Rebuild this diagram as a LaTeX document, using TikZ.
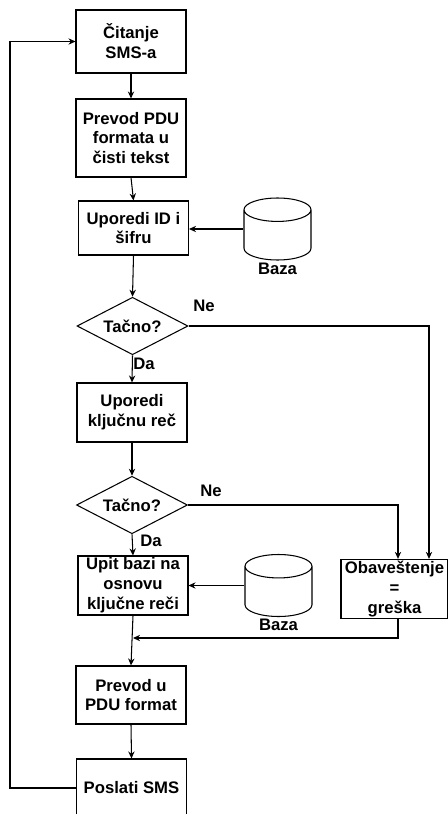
\documentclass[tikz,border=0pt]{standalone}
\usepackage{fontspec}
\setmainfont{Liberation Sans}
\usepackage{tikz}
\usetikzlibrary{shapes.geometric, arrows.meta, positioning}

\begin{document}
\begin{tikzpicture}[
    x=0.02cm, y=-0.02cm,
    >={Stealth[length=4pt, width=3.6pt]},
    line width=0.6pt,
    txt/.style={font=\bfseries\fontsize{9.5}{11.3}\selectfont, align=center, inner sep=1pt},
    block/.style={txt, draw, minimum width=2.2cm, minimum height=#1},
    block/.default={1.18cm},
    decision/.style={txt, draw, diamond, aspect=2, inner sep=0pt, minimum width=2.22cm, minimum height=1.15cm},
    dbase/.style={draw, cylinder, shape border rotate=90, aspect=2, anchor=shape center,
        minimum width=1.34cm, minimum height=1.24cm,
        label={[txt, label distance=0pt]below:Baza}}
]
\useasboundingbox (0,0) rectangle (448,814);
\clip (0,0) rectangle (448,814);

% Main column
\node[block=1.26cm] (b1) at (131,41.5) {Čitanje\\SMS-a};
\node[block=1.56cm] (b2) at (131,138) {Prevod PDU\\formata u\\čisti tekst};
\node[block=1.08cm] (b3) at (133.5,228) {Uporedi ID i\\šifru};
\node[decision] (d1) at (132.5,326) {Tačno?};
\node[block] (b4) at (132,412.5) {Uporedi\\ključnu reč};
\node[decision] (d2) at (132,505) {Tačno?};
\node[block] (b5) at (133,585.5) {Upit bazi na\\osnovu\\ključne reči};
\node[block=1.16cm] (b6) at (131,695) {Prevod u\\PDU format};
\node[block=1.16cm] (b7) at (131.5,788) {Poslati SMS};

% Databases and error box
\node[dbase] (db1) at (277.5,229) {};
\node[dbase] (db2) at (278.5,585.5) {};
\node[block=1.08cm, minimum width=2.14cm] (err) at (394.5,589) {Obaveštenje\\=\\greška};

% Helper points
\coordinate (jn) at (133,638);
\coordinate (fb) at (10,41.5);

% Arrows
\draw[->] (b1.south) -- (b2.north);
\draw[->] (b2.south) -- (b3.north);
\draw[->] (db1.west |- db1.shape center) -- (b3.east |- db1.shape center);
\draw[->] (b3.south) -- (d1.north);
\draw[->] (d1.south) -- (b4.north);
\draw[->] (b4.south) -- (d2.north);
\draw[->] (d2.south) -- (b5.north);
\draw[->] (db2.west |- db2.shape center) -- (b5.east |- db2.shape center);
\draw[->] (b5.south) -- (b6.north);
\draw[->] (b6.south) -- (b7.north);
\draw[->] (d1.east) -| ([xshift=0.69cm]err.north);
\draw[->] (d2.east) -| ([xshift=0.07cm]err.north);
\draw[->] ([xshift=0.07cm]err.south) |- (jn);
\draw[->] (b7.west) -| (fb) -- (b1.west);

% Branch labels
\node[txt] (ne1) at (204,306) {Ne};
\node[txt] (da1) at (144,364) {Da};
\node[txt] (ne2) at (211,491) {Ne};
\node[txt] (da2) at (151,541) {Da};

\end{tikzpicture}
\end{document}
